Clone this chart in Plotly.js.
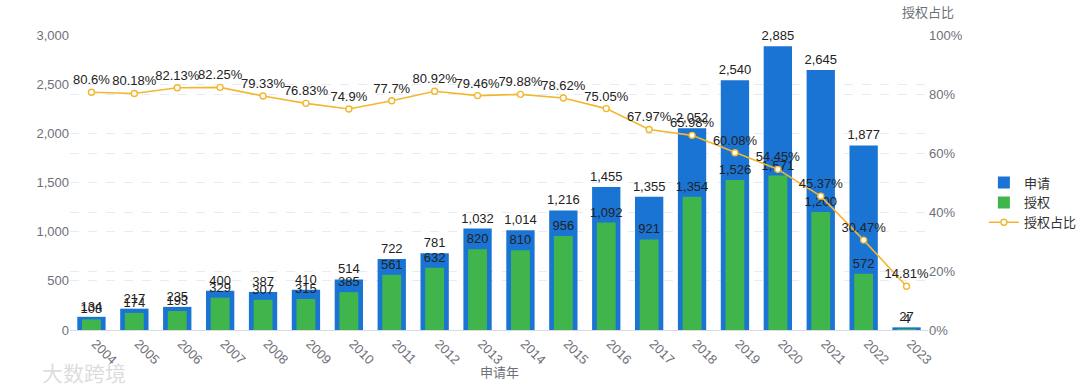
<!DOCTYPE html>
<html>
<head>
<meta charset="utf-8">
<script src="https://cdn.plot.ly/plotly-3.0.1.min.js"></script>
<style>html,body{margin:0;padding:0;background:#fff;}#chart{width:1080px;height:391px;}</style>
</head>
<body>
<div id="chart"></div>
<script>
const years = ["2004","2005","2006","2007","2008","2009","2010","2011","2012","2013","2014","2015","2016","2017","2018","2019","2020","2021","2022","2023"];
const applied = [134,217,235,400,387,410,514,722,781,1032,1014,1216,1455,1355,2052,2540,2885,2645,1877,27];
const granted = [108,174,193,329,307,315,385,561,632,820,810,956,1092,921,1354,1526,1571,1200,572,4];
const ratio = [80.6,80.18,82.13,82.25,79.33,76.83,74.9,77.7,80.92,79.46,79.88,78.62,75.05,67.97,65.98,60.08,54.45,45.37,30.47,14.81];
const ratioLabels = ["80.6%","80.18%","82.13%","82.25%","79.33%","76.83%","74.9%","77.7%","80.92%","79.46%","79.88%","78.62%","75.05%","67.97%","65.98%","60.08%","54.45%","45.37%","30.47%","14.81%"];

const FONT = "Liberation Sans, Arial, Noto Sans CJK SC, sans-serif";
const GRAY = "#6e7079";

const traces = [
  {
    type: "bar", name: "申请", x: years, y: applied,
    width: 0.66,
    marker: {color: "#1a74d3"},
    texttemplate: "%{y:,}", textposition: "outside", textangle: 0,
    constraintext: "none",
    textfont: {color: "#222", size: 13, family: FONT},
    cliponaxis: false,
    hoverinfo: "x+y"
  },
  {
    type: "bar", name: "授权", x: years, y: granted,
    width: 0.44,
    marker: {color: "#3fb54b"},
    texttemplate: "%{y:,}", textposition: "outside", textangle: 0,
    constraintext: "none",
    textfont: {color: "#222", size: 13, family: FONT},
    cliponaxis: false,
    hoverinfo: "x+y"
  },
  {
    type: "scatter", mode: "lines+markers+text", name: "授权占比",
    x: years, y: ratio, yaxis: "y2",
    text: ratioLabels, textposition: "top center",
    textfont: {color: "#222", size: 13, family: FONT},
    line: {color: "#f2b730", width: 1.6},
    marker: {symbol: "circle", size: 6, color: "#ffffff", line: {color: "#f2b730", width: 1.4}},
    cliponaxis: false
  }
];

const layout = {
  width: 1080, height: 391,
  margin: {l: 70, r: 152, t: 35, b: 61, autoexpand: false},
  paper_bgcolor: "#fff", plot_bgcolor: "#fff",
  barmode: "overlay",
  font: {family: FONT, color: GRAY, size: 13},
  showlegend: true,
  legend: {
    xref: "container", yref: "container",
    x: 0.911, xanchor: "left", y: 0.482, yanchor: "middle",
    font: {size: 13, color: "#333", family: FONT},
    itemwidth: 30, tracegroupgap: 2, bgcolor: "rgba(0,0,0,0)"
  },
  xaxis: {
    type: "category", automargin: false,
    range: [-0.5, 19.5], autorange: false,
    tickangle: 45, ticklabelshift: 4,
    tickfont: {size: 13, color: GRAY},
    showgrid: false,
    showline: true, linecolor: "#d6dbe6", linewidth: 1,
    ticks: "", zeroline: false
  },
  yaxis: {
    automargin: false,
    range: [0, 3000], tick0: 0, dtick: 500,
    tickformat: ",",
    tickfont: {size: 13, color: GRAY},
    showgrid: true, gridcolor: "#e8ebf1", griddash: "dash", gridwidth: 1,
    zeroline: false, showline: false, ticks: ""
  },
  yaxis2: {
    automargin: false,
    overlaying: "y", side: "right",
    range: [0, 100], tick0: 0, dtick: 20, ticksuffix: "%",
    tickfont: {size: 13, color: GRAY},
    showgrid: true, gridcolor: "#e8ebf1", griddash: "dash", gridwidth: 1,
    zeroline: false, showline: false, ticks: ""
  },
  annotations: [
    {text: "授权占比", xref: "paper", x: 1.0, xanchor: "center", yref: "paper", y: 1, yshift: 24, yanchor: "middle",
     showarrow: false, font: {size: 13, color: GRAY, family: "Noto Sans CJK SC"}},
    {text: "专利数量", xref: "paper", x: 0, xshift: -84, xanchor: "center", yref: "paper", y: 0.405, yanchor: "middle",
     textangle: -90, showarrow: false, font: {size: 13, color: "#2a3550", family: "Noto Sans CJK SC"}},
    {text: "申请年", xref: "paper", x: 0.5, xanchor: "center", yref: "paper", y: 0, yshift: -41, yanchor: "middle",
     showarrow: false, font: {size: 13, color: GRAY, family: "Noto Sans CJK SC"}},
    {text: "大数跨境", xref: "paper", x: 0, xshift: -30, xanchor: "left", yref: "paper", y: 0, yshift: -42, yanchor: "middle",
     showarrow: false, font: {size: 21, color: "rgba(190,190,190,0.55)", family: "Noto Sans CJK SC"}}
  ]
};

Plotly.newPlot("chart", traces, layout, {displayModeBar: false, responsive: false});
</script>
</body>
</html>
